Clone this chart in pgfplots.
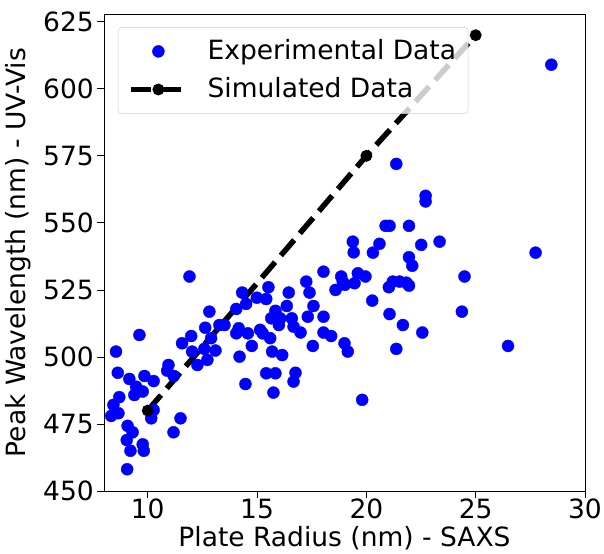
\documentclass[border=0pt]{standalone}
\usepackage{pgfplots}
\pgfplotsset{compat=1.18}
\usepackage{fontspec}
\setmainfont{DejaVu Sans}

\pgfplotstableread{
x y
12.82 516.9
9.62 508.2
8.55 502.0
11.99 507.8
11.57 505.1
12.63 510.9
12.90 507.0
12.03 502.0
12.59 503.0
12.73 498.9
12.27 497.0
8.63 494.1
9.16 491.8
9.85 492.9
10.27 491.0
10.95 497.0
10.89 494.9
11.19 492.9
9.47 488.9
9.77 487.1
9.39 485.8
8.70 485.0
8.43 482.1
8.66 479.0
8.33 478.0
7.95 479.0
10.27 480.2
10.16 477.1
11.50 477.1
9.08 474.3
9.31 471.9
11.18 471.9
9.04 469.0
9.77 467.4
9.82 465.0
9.21 465.0
9.06 458.1
11.91 530.0
14.32 524.0
15.52 526.0
14.99 522.1
15.42 521.6
14.50 519.8
14.05 517.9
16.45 524.0
17.25 528.1
17.40 524.0
18.04 531.8
18.85 530.0
19.02 526.9
18.59 525.0
16.36 519.0
15.84 517.2
15.65 514.4
16.06 514.4
16.00 511.9
16.59 514.4
16.67 511.3
16.99 509.1
17.58 519.0
17.32 515.0
18.04 515.0
18.04 509.1
18.39 507.8
17.55 504.1
19.00 505.1
19.15 502.0
13.28 511.9
13.51 511.9
14.16 510.7
14.05 508.8
14.58 508.8
15.14 510.1
15.26 508.8
15.60 507.0
14.76 504.1
13.10 502.4
14.20 500.1
15.69 502.0
16.15 500.7
15.42 493.9
15.84 493.9
16.76 494.1
16.67 490.8
14.47 489.9
15.75 486.7
21.37 572.0
22.71 560.1
22.71 558.0
20.88 548.9
21.06 548.9
21.95 548.9
19.38 543.0
19.42 539.0
20.60 542.2
20.30 538.9
22.51 541.8
23.35 543.0
21.95 537.2
22.10 534.0
24.49 530.0
19.61 531.2
19.96 530.0
18.92 528.1
19.46 527.5
21.21 528.1
21.52 528.1
21.83 527.7
21.03 526.0
21.95 526.6
20.27 521.0
24.37 516.9
21.06 516.0
21.67 511.9
22.56 509.1
21.37 503.0
28.46 609.0
27.74 538.9
26.48 504.1
19.81 484.0
}\experimental

\pgfplotstableread{
x y
10 480
20 575
25 620
}\simulated

\begin{document}
\fontsize{26.5bp}{32bp}\selectfont
\begin{tikzpicture}
\begin{axis}[
  scale only axis,
  width=481bp, height=476.7bp,
  xmin=8, xmax=30, ymin=450, ymax=627.8,
  xtick={10,15,20,25,30},
  ytick={450,475,500,525,550,575,600,625},
  tick align=outside,
  xtick pos=bottom, ytick pos=left,
  major tick length=7bp,
  axis line style={line width=0.8bp},
  tick style={line width=0.8bp, black},
  /pgf/number format/assume math mode=true,
  /pgf/number format/1000 sep={},
  tick label style={font=\fontsize{26.5bp}{32bp}\selectfont, inner sep=3bp},
  xticklabel style={inner sep=1bp},
  label style={font=\fontsize{26.5bp}{32bp}\selectfont},
  xlabel={Plate Radius (nm) - SAXS},
  xlabel style={yshift=3bp},
  ylabel={Peak Wavelength (nm) - UV-Vis},
  legend style={
    at={(0.029,0.973)}, anchor=north west,
    draw=black!20, rounded corners=4bp,
    fill=white, fill opacity=0.8, text opacity=1,
    font=\fontsize{26.5bp}{32bp}\selectfont,
    inner xsep=10bp, inner ysep=10bp,
    row sep=10bp, column sep=17bp,
  },
  legend cell align=left,
  legend image code/.code={
    \draw[mark repeat=2, mark phase=2, fill opacity=1, draw opacity=1, #1]
      plot coordinates {(0bp,0bp) (27.5bp,0bp) (55bp,0bp)};
  },
]
\addplot[only marks, mark=*, mark size=6bp, color=blue, draw=none, fill=blue]
  table[x=x, y=y] {\experimental};
\addlegendentry{Experimental Data}
\addplot[black, line width=5.5bp, dash pattern=on 20.4bp off 8.8bp,
  mark=*, mark size=3bp, mark options={solid, fill=black}]
  table[x=x, y=y] {\simulated};
\addlegendentry{Simulated Data}
\end{axis}
\pgfresetboundingbox
\path[use as bounding box] (current axis.south west) ++(-104bp,-63bp) rectangle ++(604bp,554bp);
\end{tikzpicture}
\end{document}
